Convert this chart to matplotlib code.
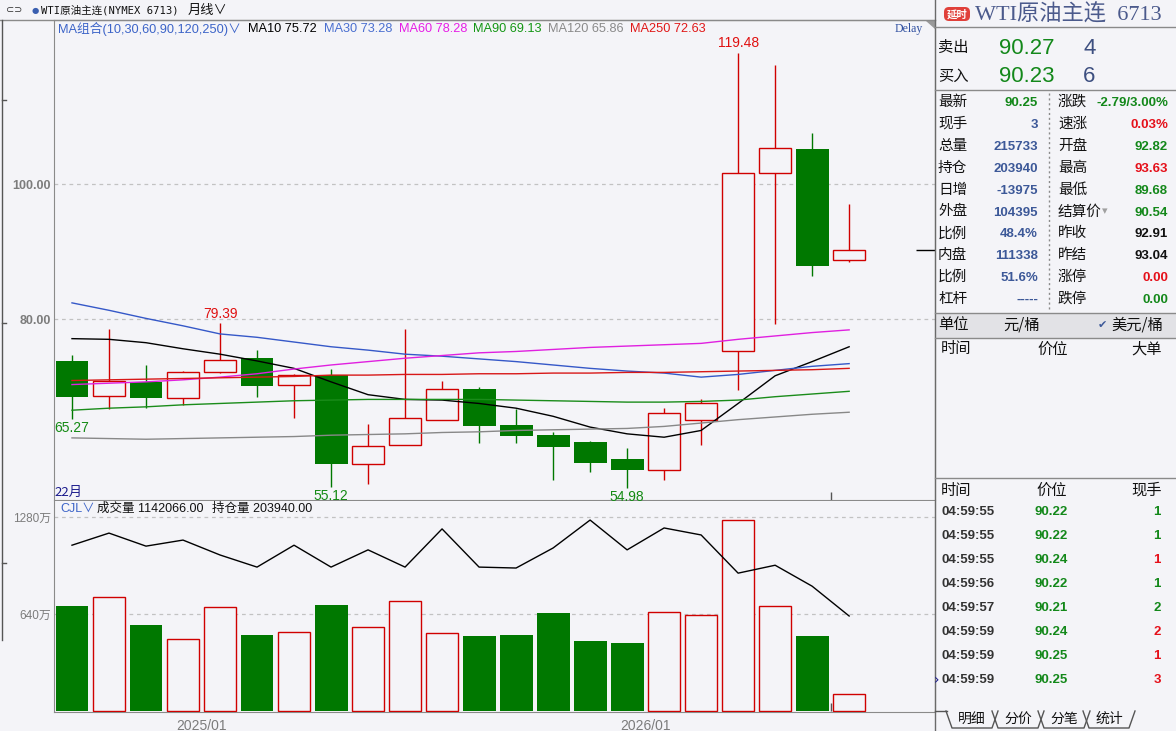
import matplotlib
matplotlib.use('Agg')
import matplotlib.pyplot as plt
from matplotlib.patches import FancyBboxPatch, Rectangle, Polygon
import numpy as np

# monthly candles (USD/bbl)
opens  = [73.8, 68.6, 70.7, 68.3, 72.1, 74.3, 70.2, 71.7, 58.5, 61.4, 65.1,
          69.6, 64.3, 62.8, 61.8, 59.3, 57.7, 65.0, 75.2, 101.7, 105.2, 88.7]
highs  = [74.7, 78.6, 73.2, 72.3, 79.39, 75.4, 71.9, 72.6, 64.4, 78.6, 70.8,
          69.9, 66.7, 63.2, 61.9, 60.9, 66.8, 68.1, 119.48, 117.6, 107.5, 97.1]
lows   = [65.27, 66.7, 66.8, 67.3, 72.0, 68.5, 65.4, 55.12, 55.6, 61.3, 65.0,
          61.7, 61.7, 56.2, 57.4, 54.98, 56.1, 61.4, 69.5, 79.2, 86.4, 88.5]
closes = [68.5, 70.9, 68.3, 72.1, 74.0, 70.1, 71.7, 58.5, 61.2, 65.3, 69.6,
          64.2, 62.7, 61.1, 58.7, 57.7, 66.1, 67.6, 101.6, 105.4, 87.9, 90.25]

ma10  = [77.1, 77.0, 76.5, 75.6, 74.8, 73.8, 72.7, 70.7, 68.8, 68.1, 68.0,
         67.5, 66.8, 65.6, 64.0, 63.0, 62.5, 63.5, 67.5, 71.6, 73.7, 75.9]
ma30  = [82.4, 81.3, 80.1, 79.0, 77.8, 77.3, 76.6, 75.9, 75.4, 74.8, 74.5,
         74.1, 73.7, 73.2, 72.7, 72.3, 72.0, 71.4, 71.8, 72.4, 73.0, 73.4]
ma60  = [70.3, 70.5, 70.7, 71.0, 71.4, 71.9, 72.6, 73.2, 73.7, 74.2, 74.6,
         75.0, 75.2, 75.5, 75.8, 76.0, 76.2, 76.4, 77.0, 77.5, 78.0, 78.4]
ma90  = [66.5, 66.8, 67.0, 67.3, 67.5, 67.7, 67.9, 68.0, 68.1, 68.1, 68.1,
         68.1, 68.0, 67.9, 67.8, 67.7, 67.7, 67.8, 68.0, 68.5, 68.9, 69.3]
ma120 = [62.4, 62.3, 62.2, 62.3, 62.4, 62.5, 62.6, 62.8, 62.9, 63.0, 63.2,
         63.3, 63.5, 63.6, 63.7, 63.8, 64.1, 64.6, 65.1, 65.5, 65.9, 66.2]
ma250 = [70.9, 71.0, 71.1, 71.2, 71.3, 71.4, 71.5, 71.7, 71.7, 71.8, 71.8,
         71.9, 71.9, 72.0, 72.0, 72.1, 72.1, 72.2, 72.3, 72.4, 72.5, 72.7]

# volume (万) and open interest (thousand lots)
volume = [693, 752, 567, 475, 686, 501, 521, 699, 554, 726, 515,
          495, 501, 647, 462, 449, 653, 633, 1260, 693, 495, 112]
open_int = [356, 382, 354, 367, 335, 309, 356, 309, 346, 309, 391,
            309, 307, 350, 410, 346, 393, 378, 296, 313, 268, 204]

month_pos = [3.5, 15.5]
month_labels = ['2025/01', '2026/01']
hi_marks = [4, 18]
lo_marks = [0, 7, 15]

# quote panel
quote_left = [('最新', '90.25', 'g'), ('现手', '3', 'b'), ('总量', '215733', 'b'),
              ('持仓', '203940', 'b'), ('日增', '-13975', 'b'), ('外盘', '104395', 'b'),
              ('比例', '48.4%', 'b'), ('内盘', '111338', 'b'), ('比例', '51.6%', 'b'),
              ('杠杆', '-----', 'b')]
quote_right = [('涨跌', '-2.79/3.00%', 'g'), ('速涨', '0.03%', 'r'), ('开盘', '92.82', 'g'),
               ('最高', '93.63', 'r'), ('最低', '89.68', 'g'), ('结算价', '90.54', 'g'),
               ('昨收', '92.91', 'k'), ('昨结', '93.04', 'k'), ('涨停', '0.00', 'r'),
               ('跌停', '0.00', 'g')]
tick_times = ['04:59:55', '04:59:55', '04:59:55', '04:59:56', '04:59:57',
              '04:59:59', '04:59:59', '04:59:59']
tick_prices = ['90.22', '90.22', '90.24', '90.22', '90.21', '90.24', '90.25', '90.25']
tick_qty = ['1', '1', '1', '1', '2', '2', '1', '3']
tick_side = ['g', 'g', 'r', 'g', 'g', 'r', 'r', 'r']

W, H = 1176, 731
BG = '#f4f4f8'
RED = '#d00000'
GREEN = '#007800'
TXT = {'g': '#13881a', 'r': '#e5101a', 'b': '#3c5898', 'k': '#111111'}
CJK = ['Noto Sans CJK SC', 'DejaVu Sans']
NUM = ['Liberation Sans', 'Noto Sans CJK SC', 'DejaVu Sans']
plt.rcParams['font.family'] = CJK


def box(l, t, r, b):
    return [l / W, 1 - b / H, (r - l) / W, (b - t) / H]


fig = plt.figure(figsize=(W / 100, H / 100), dpi=100, facecolor=BG)
ax = fig.add_axes(box(54, 20, 935, 500))
axv = fig.add_axes(box(54, 501, 935, 712))
for a in (ax, axv):
    a.set_facecolor(BG)
    for s in a.spines.values():
        s.set_color('#8a8a8a')
axv.spines['top'].set_visible(False)

x = np.arange(len(opens))
xl = (-0.486, 23.32)

# candles
for i in x:
    o, c, h, l = opens[i], closes[i], highs[i], lows[i]
    if c >= o:
        ax.bar(i, c - o, 0.86, bottom=o, facecolor=BG, edgecolor=RED, lw=1, zorder=3)
        ax.vlines(i, c, h, color=RED, lw=1, zorder=2)
        ax.vlines(i, l, o, color=RED, lw=1, zorder=2)
        axv.bar(i, volume[i], 0.86, facecolor=BG, edgecolor=RED, lw=1, zorder=3)
    else:
        ax.vlines(i, l, h, color=GREEN, lw=1, zorder=2)
        ax.bar(i, o - c, 0.89, bottom=c, color=GREEN, zorder=3)
        axv.bar(i, volume[i], 0.89, color=GREEN, zorder=3)

ma_colors = ['black', '#3558c8', '#e020e0', '#1a8c1a', '#888888', '#d81818']
for ma, col in zip([ma10, ma30, ma60, ma90, ma120, ma250], ma_colors):
    ax.plot(x, ma, color=col, lw=1, zorder=4)

for i in hi_marks:
    ax.annotate(f'{highs[i]:.2f}', (i, highs[i]), xytext=(0, 1.5), textcoords='offset points',
                ha='center', va='bottom', color='#e01010', fontsize=10, family=NUM)
for i in lo_marks:
    ax.annotate(f'{lows[i]:.2f}', (i, lows[i]), xytext=(0, -1.5), textcoords='offset points',
                ha='center', va='top', color='#138a13', fontsize=10, family=NUM)

ax.hlines(closes[-1], 22.81, xl[1], color='black', lw=1, zorder=4)
ax.vlines(20.5, 53.2, 54.4, color='#555555', lw=1)
axv.vlines(20.5, 0, 55, color='#555555', lw=1)

ax.set_xlim(*xl)
ax.set_ylim(53.2, 124.3)
ax.set_xticks([])
ax.set_yticks([80, 100], ['80.00', '100.00'])
ax.tick_params(axis='y', length=0, pad=2, labelcolor='#7c7c7c', labelsize=9)
for t in ax.get_yticklabels():
    t.set_family(NUM)
    t.set_fontweight('bold')
for v in [80, 100]:
    ax.axhline(v, color='#c2c2c2', lw=0.9, ls=(0, (3, 3)), zorder=1)

axv.set_xlim(*xl)
axv.set_ylim(-6.6, 1385.6)
axv.set_yticks([640, 1280], ['640万', '1280万'])
axv.tick_params(axis='y', length=0, pad=2, labelcolor='#7c7c7c', labelsize=8.5)
axv.set_xticks(month_pos, month_labels)
axv.tick_params(axis='x', length=0, pad=5, labelcolor='#7c7c7c', labelsize=10)
for t in axv.get_yticklabels() + axv.get_xticklabels():
    t.set_family(NUM)
for v in [640, 1280]:
    axv.axhline(v, color='#c2c2c2', lw=0.9, ls=(0, (3, 3)), zorder=1)

axo = axv.twinx()
axo.plot(x, open_int, color='black', lw=1, zorder=4)
axo.set_ylim(-2.1, 450.9)
axo.set_axis_off()

# overlay in pixel coordinates for the screen chrome
ov = fig.add_axes([0, 0, 1, 1], facecolor='none')
ov.set_xlim(0, W)
ov.set_ylim(H, 0)
ov.axis('off')


def t(px, py, s, **kw):
    kw.setdefault('va', 'center')
    ov.text(px, py, s, **kw)


def line(xs, ys, **kw):
    kw.setdefault('color', '#8a8a8a')
    kw.setdefault('lw', 1)
    ov.plot(xs, ys, **kw)


line([0, 935], [20, 20])
line([2, 2], [20, 640], color='#555555')
for yy in [100, 323, 563]:
    line([2, 6], [yy, yy], color='#555555')

t(6, 10, '⊂⊃', fontsize=7, color='#333333', family=['DejaVu Sans'])
t(32, 10, '●', fontsize=6, color='#3a5fb0', family=['DejaVu Sans'])
t(41, 10, 'WTI原油主连(NYMEX 6713)', fontsize=7.6, color='#111111',
  family=['DejaVu Sans Mono', 'Noto Sans CJK SC'])
t(188, 10, '月线∨', fontsize=9.5, color='#111111')

ma_head = [(58, 'MA组合(10,30,60,90,120,250)∨', '#3c64c8'), (248, 'MA10 75.72', 'black'),
           (324, 'MA30 73.28', '#4a6fd0'), (399, 'MA60 78.28', '#e61ee6'),
           (473, 'MA90 69.13', '#149614'), (548, 'MA120 65.86', '#8a8a8a'),
           (630, 'MA250 72.63', '#e01818')]
for px, s, col in ma_head:
    t(px, 29, s, fontsize=9.2, color=col, family=NUM)
t(895, 29, 'Delay', fontsize=8.5, color='#3050a0', family=['Liberation Serif'])
ov.add_patch(Polygon([[926, 20.5], [934.5, 20.5], [934.5, 29]], closed=True, fc='#9a9a9a', ec='none'))

t(54, 492, '22月', fontsize=9.5, color='#1a1a8c')
t(60, 509, 'CJL∨', fontsize=9, color='#3c64c8', family=NUM)
t(97, 509, '成交量 1142066.00', fontsize=9, color='#111111', family=NUM)
t(212, 509, '持仓量 203940.00', fontsize=9, color='#111111', family=NUM)

# right quote panel
line([935, 935], [0, H], color='#6a6a6a')
ov.add_patch(FancyBboxPatch((944, 7), 26, 14, boxstyle='round,pad=0,rounding_size=5',
                            fc='#e0403a', ec='none'))
t(957, 14.5, '延时', fontsize=7.5, color='white', ha='center', fontweight='bold')
t(975, 15, 'WTI原油主连  6713', fontsize=16, color='#4b5a8c',
  family=['Liberation Serif', 'Noto Sans CJK SC'])
line([935, W], [27, 27])
t(938, 47, '卖出', fontsize=11, color='#111111')
t(999, 48, '90.27', fontsize=16, color=TXT['g'], family=NUM)
t(1083, 48, '4', fontsize=16, color='#3d4f80', family=NUM)
t(938, 76, '买入', fontsize=11, color='#111111')
t(999, 77, '90.23', fontsize=16, color=TXT['g'], family=NUM)
t(1083, 77, '6', fontsize=16, color='#3d4f80', family=NUM)
line([935, W], [90, 90])

for k, ((l1, v1, c1), (l2, v2, c2)) in enumerate(zip(quote_left, quote_right)):
    yy = 102 + 21.9 * k
    t(938, yy, l1, fontsize=10.5, color='#111111')
    t(1038, yy + 1, v1, fontsize=9.5, color=TXT[c1], ha='right', fontweight='bold', family=NUM)
    t(1058, yy, l2, fontsize=10.5, color='#111111')
    t(1168, yy + 1, v2, fontsize=9.5, color=TXT[c2], ha='right', fontweight='bold', family=NUM)
t(1102, 211, '▾', fontsize=8, color='#a0a0a0', family=['DejaVu Sans'])
line([1049, 1049], [93, 310], color='#8a8a8a', ls=(0, (1.5, 2)))

ov.add_patch(Rectangle((935, 313), W - 935, 25, fc='#e2e2e6', ec='none'))
line([935, W], [313, 313])
line([935, W], [338, 338])
t(938, 325, '单位', fontsize=11, color='#111111')
t(1003, 325, '元/桶', fontsize=11, color='#111111')
t(1098, 325, '✔', fontsize=8, color='#3c5898', family=['DejaVu Sans'])
t(1111, 325, '美元/桶', fontsize=11, color='#111111')
t(941, 349, '时间', fontsize=11, color='#111111')
t(1053, 349, '价位', fontsize=11, color='#111111', ha='center')
t(1147, 349, '大单', fontsize=11, color='#111111', ha='center')

line([935, W], [478, 478])
t(941, 490, '时间', fontsize=11, color='#111111')
t(1052, 490, '价位', fontsize=11, color='#111111', ha='center')
t(1147, 490, '现手', fontsize=11, color='#111111', ha='center')
for k in range(len(tick_times)):
    yy = 512 + 24 * k
    t(942, yy, tick_times[k], fontsize=9.5, color='#333333', fontweight='bold', family=NUM)
    t(1051, yy, tick_prices[k], fontsize=9.5, color=TXT['g'], ha='center', fontweight='bold', family=NUM)
    t(1161, yy, tick_qty[k], fontsize=9.5, color=TXT[tick_side[k]], ha='right', fontweight='bold', family=NUM)
t(934, 680, '›', fontsize=10, color='#1a1a8c', family=['DejaVu Sans'])

line([935, 947], [711, 711], color='#555555')
for c, s in zip([972, 1018, 1064, 1109], ['明细', '分价', '分笔', '统计']):
    line([c - 26, c - 20, c + 20, c + 26], [711, 728, 728, 711], color='#555555')
    t(c, 719, s, fontsize=10, color='#111111', ha='center')

fig.savefig('out.png', dpi=100, facecolor=BG)
